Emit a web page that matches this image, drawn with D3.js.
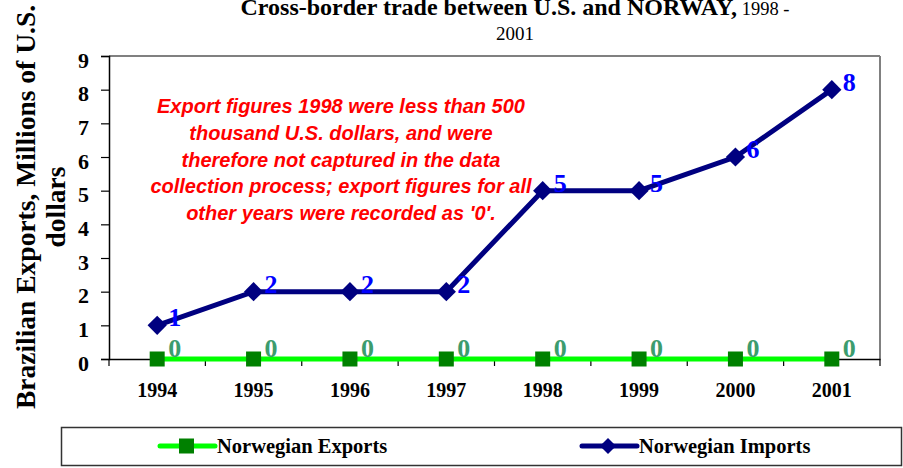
<!DOCTYPE html>
<html><head><meta charset="utf-8">
<script src="https://cdn.jsdelivr.net/npm/d3@7"></script>
<style>body{margin:0;background:#fff}svg{display:block}</style>
</head><body><svg id="c" width="903" height="468"></svg>
<script>
const years = ["1994","1995","1996","1997","1998","1999","2000","2001"];
const exportsVals = [0,0,0,0,0,0,0,0];
const importsVals = [1,2,2,2,5,5,6,8];
const yTicks = [0,1,2,3,4,5,6,7,8,9];
const noteLines = ["Export figures 1998 were less than 500","thousand U.S. dollars, and were","therefore not captured in the data","collection process; export figures for all","other years were recorded as '0'."];

const svg = d3.select("#c");
const serif = "'Liberation Serif','Times New Roman',serif";
const sans = "'Liberation Sans',Arial,sans-serif";
const m = {l:109, r:880, t:56, b:359};
const x = d3.scaleBand().domain(years).range([m.l, m.r]);
const y = d3.scaleLinear().domain([0,9]).range([m.b, m.t]);

// frame
svg.append("line").attr("x1",m.l).attr("x2",m.r).attr("y1",m.t).attr("y2",m.t).attr("stroke","#808080").attr("stroke-width",2);
svg.append("line").attr("x1",m.r).attr("x2",m.r).attr("y1",m.t).attr("y2",m.b).attr("stroke","#808080").attr("stroke-width",2);

// y axis
const ya = svg.append("g").attr("transform",`translate(${m.l},0)`)
  .call(d3.axisLeft(y).tickValues(yTicks).tickSize(8).tickPadding(12).tickFormat(d3.format("d")));
ya.select(".domain").attr("stroke","#000").attr("stroke-width",1.5);
ya.selectAll(".tick line").attr("stroke","#000").attr("stroke-width",1.2);
ya.selectAll("text").attr("font-family",serif).attr("font-weight","bold").attr("font-size",22).attr("fill","#000").attr("dy","0.5em");

// x axis
const xa = svg.append("g").attr("transform",`translate(0,${m.b})`)
  .call(d3.axisBottom(x).tickSize(0));
xa.select(".domain").attr("stroke","#000").attr("stroke-width",1.5);
xa.selectAll("text").attr("font-family",serif).attr("font-weight","bold").attr("font-size",20).attr("fill","#000").attr("y",38).attr("dy",0);
// boundary ticks
const bounds = years.map(d=>x(d)).concat([m.r]);
xa.selectAll(".bt").data(bounds).enter().append("line").attr("class","bt")
  .attr("x1",d=>d).attr("x2",d=>d).attr("y1",0).attr("y2",7).attr("stroke","#000").attr("stroke-width",1.2);

const cx = d => x(d) + x.bandwidth()/2;

// exports line
const line = d3.line();
svg.append("path").attr("d", line(years.map((d,i)=>[cx(d), y(exportsVals[i])])))
  .attr("fill","none").attr("stroke","#00ff00").attr("stroke-width",5);
// imports line
svg.append("path").attr("d", line(years.map((d,i)=>[cx(d), y(importsVals[i])])))
  .attr("fill","none").attr("stroke","#000080").attr("stroke-width",5);

// export markers
svg.selectAll(".em").data(years).enter().append("rect")
  .attr("x",d=>cx(d)-7.5).attr("y",(d,i)=>y(exportsVals[i])-7.5).attr("width",15).attr("height",15).attr("fill","#008000");
// import markers
const sym = d3.symbol().type(d3.symbolSquare).size(185);
svg.selectAll(".im").data(years).enter().append("path")
  .attr("d",sym()).attr("fill","#000080")
  .attr("transform",(d,i)=>`translate(${cx(d)},${y(importsVals[i])}) rotate(45)`);

// labels
svg.selectAll(".el").data(years).enter().append("text")
  .attr("x",d=>cx(d)+11).attr("y",(d,i)=>y(exportsVals[i])-2)
  .attr("font-family",serif).attr("font-weight","bold").attr("font-size",26).attr("fill","#3c9c6e")
  .text((d,i)=>exportsVals[i]);
svg.selectAll(".il").data(years).enter().append("text")
  .attr("x",d=>cx(d)+11).attr("y",(d,i)=>y(importsVals[i])+1)
  .attr("font-family",serif).attr("font-weight","bold").attr("font-size",26).attr("fill","#0000ff")
  .text((d,i)=>importsVals[i]);

// note
svg.append("text").attr("x",341).attr("y",113).attr("text-anchor","middle")
  .attr("font-family",sans).attr("font-weight","bold").attr("font-style","italic").attr("font-size",20).attr("fill","#ff0000")
  .selectAll("tspan").data(noteLines).enter().append("tspan").attr("x",341).attr("dy",(d,i)=>i?26.8:0).text(d=>d);

// title
const t = svg.append("text").attr("x",515).attr("y",15).attr("text-anchor","middle").attr("font-family",serif);
t.append("tspan").attr("font-weight","bold").attr("font-size",24).text("Cross-border trade between U.S. and NORWAY,");
t.append("tspan").attr("font-size",18.5).text(" 1998 -");
svg.append("text").attr("x",515).attr("y",40).attr("text-anchor","middle").attr("font-family",serif).attr("font-size",19).text("2001");

// y label
const yl = svg.append("text").attr("transform","translate(0,207) rotate(-90)").attr("text-anchor","middle")
  .attr("font-family",serif).attr("font-weight","bold").attr("font-size",27.5).attr("fill","#000");
yl.append("tspan").attr("x",0).attr("y",35).text("Brazilian Exports, Millions of U.S.");
yl.append("tspan").attr("x",0).attr("y",65).text("dollars");

// legend
svg.append("rect").attr("x",61.5).attr("y",427.5).attr("width",840).attr("height",38).attr("fill","#fff").attr("stroke","#333").attr("stroke-width",1.5);
const lg = [{name:"Norwegian Exports", x1:160, col:"#00ff00", mk:"sq"},{name:"Norwegian Imports", x1:582, col:"#000080", mk:"di"}];
lg.forEach(l=>{
  const g = svg.append("g");
  g.append("line").attr("x1",l.x1).attr("x2",l.x1+55).attr("y1",446).attr("y2",446).attr("stroke",l.col).attr("stroke-width",5).attr("stroke-linecap","round");
  if(l.mk==="sq") g.append("rect").attr("x",l.x1+19).attr("y",438.5).attr("width",15).attr("height",15).attr("fill","#008000");
  else g.append("path").attr("d",d3.symbol().type(d3.symbolSquare).size(130)()).attr("fill","#000080").attr("transform",`translate(${l.x1+26},446) rotate(45)`);
  g.append("text").attr("x",l.x1+57).attr("y",453).attr("font-family",serif).attr("font-weight","bold").attr("font-size",20.5).attr("fill","#000").text(l.name);
});
</script></body></html>
